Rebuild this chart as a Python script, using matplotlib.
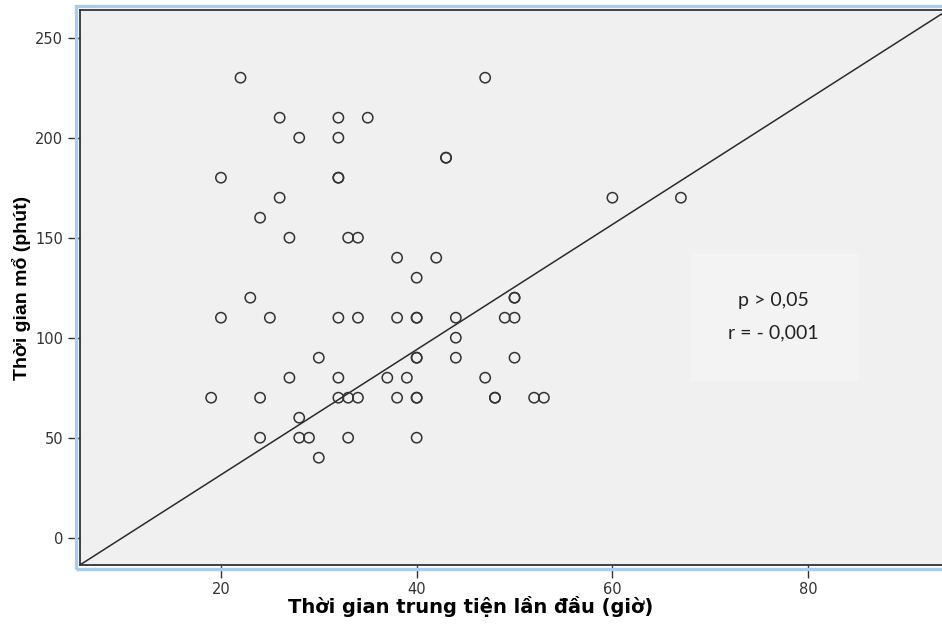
import matplotlib
matplotlib.use('Agg')
import matplotlib.pyplot as plt
from matplotlib.patches import Rectangle

# dữ liệu (giờ, phút)
gio = [22, 47,
       26, 32, 35,
       28, 32,
       43, 43,
       20, 32, 32,
       26, 60, 67,
       24,
       27, 33, 34,
       38, 42,
       40,
       23, 50, 50,
       20, 25, 32, 34, 38, 40, 40, 44, 49, 50,
       44,
       30, 40, 40, 44, 50,
       27, 32, 37, 39, 47,
       19, 24, 32, 33, 34, 38, 40, 40, 48, 48, 52, 53,
       28,
       24, 28, 29, 33, 40,
       30]
phut = [230, 230,
        210, 210, 210,
        200, 200,
        190, 190,
        180, 180, 180,
        170, 170, 170,
        160,
        150, 150, 150,
        140, 140,
        130,
        120, 120, 120,
        110, 110, 110, 110, 110, 110, 110, 110, 110, 110,
        100,
        90, 90, 90, 90, 90,
        80, 80, 80, 80, 80,
        70, 70, 70, 70, 70, 70, 70, 70, 70, 70, 70, 70,
        60,
        50, 50, 50, 50, 50,
        40]

# đường tham chiếu
line_x = [5.6, 94.7]
line_y = [-13.6, 265.2]

x_ticks = [20, 40, 60, 80]
y_ticks = [0, 50, 100, 150, 200, 250]
stat_lines = ['p > 0,05', 'r = - 0,001']

W, H = 942, 627
fig = plt.figure(figsize=(W / 100, H / 100), dpi=100)
ax = fig.add_axes([80 / W, 62 / H, 872 / W, 555 / H])
ax.set_facecolor('#f0f0f0')

ax.plot(line_x, line_y, color='#2b2b2b', linewidth=1.1, zorder=2)
ax.scatter(gio, phut, s=55, facecolors='none', edgecolors='#333333', linewidths=1.1, zorder=3)

ax.set_xlim(5.6, 94.7)
ax.set_ylim(-13.65, 263.85)
ax.set_xticks(x_ticks)
ax.set_yticks(y_ticks)
ax.tick_params(axis='both', length=9, width=1, color='#333333', labelcolor='#333333',
               labelsize=10.5, pad=3)
for s in ax.spines.values():
    s.set_color('#333333')
    s.set_linewidth(1.3)

ax.set_xlabel('Thời gian trung tiện lần đầu (giờ)', fontsize=14, fontweight='bold')
ax.xaxis.set_label_coords(0.448, -0.055)
ax.set_ylabel('Thời gian mổ (phút)', fontsize=14, fontweight='bold', family='Liberation Sans')
ax.yaxis.set_label_coords(-0.056, 0.499)

# khung xanh bên ngoài
fig.patches.append(Rectangle((76 / W, (H - 569) / H), 0.99, 563 / H, transform=fig.transFigure,
                             fill=False, edgecolor='#a8cbee', linewidth=2.4, zorder=1))

# hộp chú thích thống kê
ax.add_patch(Rectangle((0.7007, 0.3315), 0.1913, 0.2305, transform=ax.transAxes,
                       facecolor='#f3f3f3', edgecolor='none', zorder=4))
ax.text(0.795, 0.4757, stat_lines[0], transform=ax.transAxes, ha='center', va='center',
        fontsize=14, family='Lato', color='#222222', zorder=5)
ax.text(0.795, 0.418, stat_lines[1], transform=ax.transAxes, ha='center', va='center',
        fontsize=14, family='Lato', color='#222222', zorder=5)

fig.savefig('out.png', dpi=100)
